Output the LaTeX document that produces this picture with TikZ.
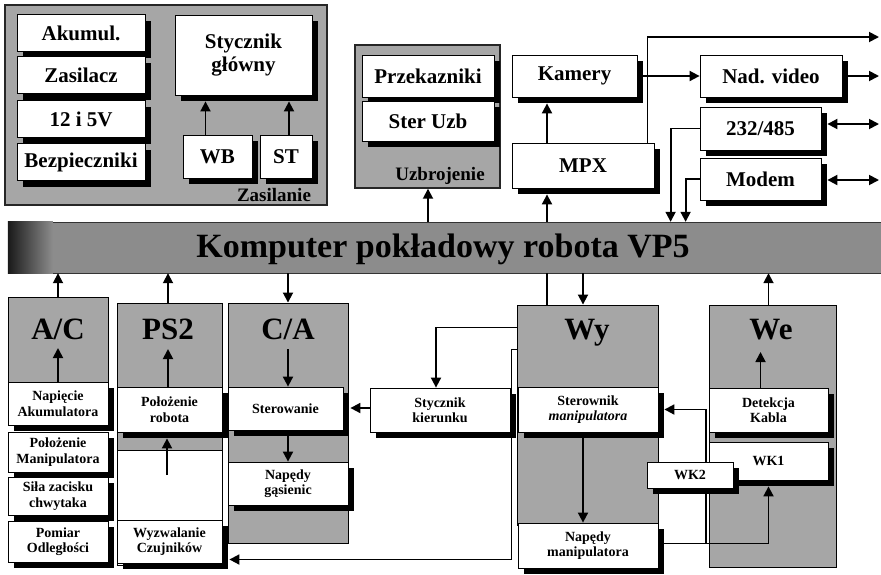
\documentclass[tikz,border=0pt]{standalone}
\usepackage{fontspec}
\setmainfont{Liberation Serif}
\usetikzlibrary{arrows.meta}
\begin{document}
\begin{tikzpicture}[x=1pt,y=-1pt,
sz/.style n args={2}{minimum width=#1,minimum height=#2},
panel/.style={draw=black!85,line width=1.4pt,fill=black!35,inner sep=0pt},
colpanel/.style={draw=black,line width=0.9pt,fill=black!35,inner sep=0pt},
box/.style={draw=black,line width=0.8pt,fill=white,inner sep=0pt,align=center,preaction={fill=black,transform canvas={shift={(6pt,-6pt)}}}},
bigtxt/.style={font=\fontsize{21}{23}\selectfont\bfseries},
smtxt/.style={font=\fontsize{14}{15.5}\selectfont\bfseries},
coltitle/.style={font=\fontsize{31}{32}\selectfont\bfseries,inner sep=0pt,anchor=base},
grptitle/.style={font=\fontsize{19}{21}\selectfont\bfseries,inner sep=0pt},
bustxt/.style={font=\fontsize{34}{36}\selectfont\bfseries,inner sep=0pt},
arr/.style={-{Triangle[length=10pt,width=10pt]},line width=1.8pt},
dblarr/.style={{Triangle[length=10pt,width=10pt]}-{Triangle[length=10pt,width=10pt]},line width=1.8pt},
wire/.style={line width=1.8pt}]
\useasboundingbox (0,0) rectangle (881,574);
\node[panel,sz={322}{200}] (zasp) at (166,105) {};
\node[grptitle] (zaslab) at (274,195) {Zasilanie};
\node[box,bigtxt,sz={128}{37}] (akum) at (81,33) {Akumul.};
\node[box,bigtxt,sz={128}{37}] (zsl) at (81,75) {Zasilacz};
\node[box,bigtxt,sz={128}{37}] (v125) at (81,119) {12 i 5V};
\node[box,bigtxt,sz={128}{37}] (bezp) at (81,162) {Bezpieczniki};
\node[box,bigtxt,sz={137}{80}] (stg) at (243.5,55) {Stycznik\\główny};
\node[box,bigtxt,sz={69}{43}] (wb) at (217.5,156.5) {WB};
\node[box,bigtxt,sz={52}{43}] (st) at (286,156.5) {ST};
\draw[arr] ([xshift=-12pt]wb.north) -- ([xshift=-12pt,yshift=-6pt]wb.north |- stg.south);
\draw[arr] ([xshift=3pt]st.north) -- ([xshift=3pt,yshift=-6pt]st.north |- stg.south);
\node[panel,sz={145}{143}] (uzp) at (427.5,116.5) {};
\node[grptitle] (uzlab) at (440,176) {Uzbrojenie};
\node[box,bigtxt,sz={132}{42}] (prz) at (428,76) {Przekazniki};
\node[box,bigtxt,sz={132}{40}] (sterU) at (428,121) {Ster Uzb};
\node[box,bigtxt,sz={125}{42}] (kam) at (574.5,76) {Kamery};
\node[box,bigtxt,sz={142}{45}] (mpx) at (583,165.5) {MPX};
\node[box,bigtxt,sz={142}{42}] (nad) at (771,76) {Nad. video};
\node[box,bigtxt,sz={121}{43}] (r232) at (760.5,128.5) {232/485};
\node[box,bigtxt,sz={121}{42}] (modem) at (760.5,179) {Modem};
\node[draw=black!80,fill=black!45,inner sep=0pt,sz={873}{51}] (bus) at (444.5,247.5) {};
\shade[left color=black!90,right color=black!45] (bus.north west) rectangle ([xshift=45pt]bus.south west);
\node[bustxt] (bustitle) at (443,249) {Komputer pokładowy robota VP5};
\coordinate (outv) at (879,37);\coordinate (outn) at (879,76);
\coordinate (outr) at (879,124);\coordinate (outm) at (879,180);
\draw[arr] ([xshift=-36pt]mpx.north) -- ([xshift=-36pt,yshift=-6pt]mpx.north |- kam.south);
\draw[arr] ([xshift=-36pt]mpx.south |- bus.north) -- ([xshift=-36pt,yshift=-6pt]mpx.south);
\draw[arr] (prz |- bus.north) -- (prz |- uzp.south);
\draw[arr] ([xshift=-7pt]mpx.north east) |- (outv);
\draw[arr] ([xshift=6pt]kam.east) -- (nad.west);
\draw[arr] ([xshift=6pt]nad.east) -- (outn);
\draw[dblarr] ([xshift=6pt]outr -| r232.east) -- (outr);
\draw[dblarr] ([xshift=6pt]outm -| modem.east) -- (outm);
\draw[arr] (r232.west) -| ([xshift=-29pt]r232.west |- bus.north);
\draw[arr] (modem.west) -| ([xshift=-14pt]modem.west |- bus.north);
\node[colpanel,sz={100}{93}] (acp) at (58,343.5) {};
\node[draw=black,line width=0.9pt,fill=white,sz={105}{262}] (ps2p) at (169.5,434) {};
\node[colpanel,sz={105}{147}] (ps2g) at (169.5,376.5) {};
\node[colpanel,sz={120}{240}] (cap) at (288,423) {};
\node[colpanel,sz={141}{220}] (wyp) at (587.5,415) {};
\node[colpanel,sz={127}{262}] (wep) at (772.5,436) {};
\node[coltitle] (aclab) at (58,339) {A/C};\node[coltitle] (ps2lab) at (168,339) {PS2};
\node[coltitle] (calab) at (288,339) {C/A};\node[coltitle] (wylab) at (587,339) {Wy};
\node[coltitle] (welab) at (771,339) {We};
\node[box,smtxt,sz={100}{43}] (napA) at (58,403.5) {Napięcie\\Akumulatora};
\node[box,smtxt,sz={100}{40}] (polM) at (58,452) {Położenie\\Manipulatora};
\node[box,smtxt,sz={100}{38}] (sila) at (58,496) {Siła zacisku\\chwytaka};
\node[box,smtxt,sz={100}{41}] (pom) at (58,541.5) {Pomiar\\Odległości};
\node[box,smtxt,sz={105}{45}] (polR) at (169.5,409.5) {Położenie\\robota};
\node[box,smtxt,sz={105}{43}] (wyz) at (169.5,541.5) {Wyzwalanie\\Czujników};
\node[box,smtxt,sz={115}{43}] (sterow) at (285.5,408.5) {Sterowanie};
\node[box,smtxt,sz={120}{43}] (napG) at (288,483.5) {Napędy\\gąsienic};
\node[box,smtxt,sz={140}{44}] (styk) at (440,410) {Stycznik\\kierunku};
\node[box,smtxt,sz={140}{45}] (stm) at (588,409.5) {Sterownik\\\textit{manipulatora}};
\node[box,smtxt,sz={140}{45}] (napM) at (588,545.5) {Napędy\\manipulatora};
\node[box,smtxt,sz={119}{44}] (det) at (768.5,410) {Detekcja\\Kabla};
\node[box,smtxt,sz={119}{38}] (wk1) at (768.5,461) {WK1};
\draw[arr] (acp.north) -- (acp.north |- bus.south);
\draw[arr] (ps2lab |- ps2p.north) -- (ps2lab |- bus.south);
\draw[arr] (calab |- bus.south) -- (calab |- cap.north);
\draw[arr] ([xshift=-5pt]stm.north |- bus.south) -- ([xshift=-5pt]stm.north |- wyp.north);
\draw[wire] ([xshift=-36pt]mpx.south |- bus.south) -- ([xshift=-36pt]mpx.south |- wyp.north);
\draw[arr] (det.north |- wep.north) -- (det.north |- bus.south);
\draw[arr] (napA.north) -- ([yshift=-9pt]aclab.base -| napA.north);
\draw[arr] (polR.north -| ps2lab) -- ([yshift=-10pt]ps2lab.base);
\coordinate (ps2in) at (167,475);
\draw[arr] (ps2in) -- ([yshift=-6pt]polR.south -| ps2in);
\draw[arr] ([yshift=-10pt]calab.base) -- (calab |- sterow.north);
\draw[arr] ([yshift=-6pt]sterow.south -| napG) -- (napG.north);
\draw[arr] ([yshift=2pt]styk.west) -- ([yshift=2pt,xshift=7pt]styk.west -| sterow.east);
\draw[arr] ([yshift=-23pt]wyp.north west) -| ([xshift=-4pt]styk.north);
\draw[arr] ([yshift=-45pt]wyp.north west) -- ++(-5,0) |- ([xshift=7pt,yshift=-18pt]wyz.east);
\draw[arr] ([xshift=-5pt,yshift=-6pt]stm.south) -- ([xshift=-5pt]napM.north);
\draw[arr] ([xshift=-8pt]det.north) -- ([xshift=-8pt,yshift=-13pt]welab.base -| det.north);
\draw[arr] ([xshift=6pt,yshift=2pt]napM.east) -| ([yshift=-6pt]wk1.south);
\draw[arr] ([xshift=-3pt,yshift=2pt]napM.east -| wk1.west) |- ([xshift=6pt]stm.east);
\node[box,smtxt,sz={86}{26}] (wk2) at (690,475) {WK2};
\end{tikzpicture}
\end{document}
